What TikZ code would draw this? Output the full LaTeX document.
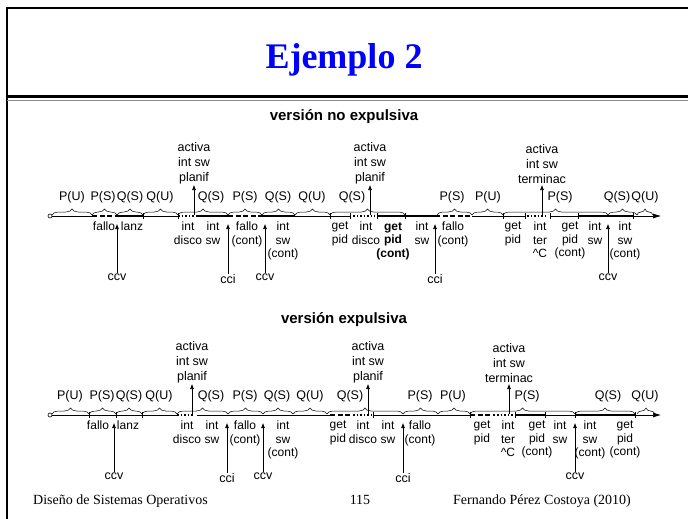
\documentclass[tikz,border=0pt]{standalone}
\usepackage{fontspec}
\setmainfont{Liberation Serif}
\setsansfont{Liberation Sans}
\usetikzlibrary{arrows.meta,decorations.pathreplacing}
\definecolor{slideBlue}{HTML}{0000FF}
\definecolor{ruleGray}{HTML}{8C8C8C}

\begin{document}
\begin{tikzpicture}[x=1pt,y=-1pt,
  lb/.style={font=\sffamily\fontsize{12.5}{13}\selectfont, inner sep=0.5pt},
  up/.style={font=\sffamily\fontsize{12.5}{15}\selectfont, align=center, anchor=south, inner sep=1pt},
  dn/.style={font=\sffamily\fontsize{12}{13.5}\selectfont, align=center, anchor=north, inner sep=0pt},
  hd/.style={font=\sffamily\bfseries\fontsize{15}{17}\selectfont},
  ft/.style={font=\fontsize{14}{16}\selectfont, anchor=base west, inner sep=0pt},
  br/.style={decorate, decoration={brace, amplitude=6pt}, line width=0.5pt},
  usr/.style={line width=0.6pt},
  krn/.style={line width=1.8pt},
  exc/.style={line width=1.8pt, dash pattern=on 5pt off 2.5pt},
  irq/.style={line width=1.5pt, dash pattern=on 1.5pt off 2pt},
  tk/.style={line width=0.6pt},
  a/.style={-{Latex[length=5pt,width=4pt]}, line width=0.6pt}]
  \useasboundingbox (0,0) rectangle (688,519);
  % slide frame
  \draw[line width=2.5pt] (7,519) -- (7,8) -- (688,8);
  \draw[line width=3pt] (7,96) -- (688,96);
  \draw[ruleGray, line width=1pt] (7,100) -- (688,100);
  \node[font=\bfseries\fontsize{36}{40}\selectfont, text=slideBlue, anchor=base] (title) at (344,69) {Ejemplo 2};

  % non-preemptive kernel
  \begin{scope}[shift={(0,216)}]
    \node[hd] (th) at (344,-99) {versión no expulsiva};
    \foreach \xa/\xb/\t/\lx [count=\i] in {52/92/P(U)/72, 92/117/P(S)/103, 117/143/Q(S)/130,
        143/178/Q(U)/160, 178/228/Q(S)/211, 228/262/P(S)/245, 262/295/Q(S)/278, 295/330/Q(U)/312,
        330/405/Q(S)/352, 437/472/P(S)/452, 472/503/P(U)/488, 503/608/P(S)/560, 608/637/Q(S)/617,
        637/653/Q(U)/645}{
      \draw[br] (\xa,-1) -- (\xb,-1);
      \node[lb] (tp\i) at (\lx,-19) {\t};
    }
    \node[draw, circle, inner sep=0pt, minimum size=4pt, line width=0.6pt] (t0) at (50,0) {};
    \foreach \xa/\xb/\s in {52/92/usr, 92/117/exc, 117/143/krn, 143/178/usr, 178/197/irq,
        197/228/krn, 228/262/exc, 262/295/krn, 295/330/usr, 330/350/usr, 353/375/irq,
        377/435/krn, 435/472/exc, 472/503/usr, 503/525/usr, 527/548/irq, 550/578/usr, 578/633/krn}
      \draw[\s] (\xa,0) -- (\xb,0);
    \foreach \x in {143,178,330,350,377,405,503,525,550,578,633}
      \draw[tk] (\x,-3) -- (\x,3);
    \coordinate (tend) at (661,0);
    \draw[usr, -{Latex[length=8pt,width=5pt]}] (633,0) -- (tend);
    \foreach \x/\t [count=\i] in {104/fallo, 132/lanz, 188/int\\disco, 213/int\\sw,
        247/fallo\\(cont), 283/int\\sw\\(cont), 340/get\\pid, 366/int\\disco,
        393/\textbf{get}\\\textbf{pid}\\\textbf{(cont)}, 422/int\\sw, 453/fallo\\(cont),
        513/get\\pid, 540/int\\ter\\\textasciicircum C, 570/get\\pid\\(cont), 595/int\\sw,
        625/int\\sw\\(cont)}
      \node[dn] (td\i) at (\x,6) {\t};
    \foreach \x/\t [count=\i] in {194/planif, 370/planif, 542/terminac}{
      \coordinate (tu\i) at (\x,-1);
      \node[up] (ta\i) at (\x,-31) {activa\\int sw\\\t};
      \draw[a] (tu\i) -- (ta\i);
    }
    \foreach \x/\y/\t [count=\i] in {117/61/ccv, 228/63/cci, 265/61/ccv, 435/63/cci, 608/61/ccv}{
      \coordinate (tv\i) at (\x,8);
      \node[lb] (tc\i) at (\x,\y) {\t};
      \draw[a] (tc\i) -- (tv\i);
    }
  \end{scope}

  % preemptive kernel
  \begin{scope}[shift={(0,415)}]
    \node[hd] (bh) at (344,-95) {versión expulsiva};
    \foreach \xa/\xb/\t/\lx [count=\i] in {52/89/P(U)/70, 89/116/P(S)/102, 116/142/Q(S)/129,
        142/177/Q(U)/159, 177/228/Q(S)/211, 228/263/P(S)/245, 263/293/Q(S)/277, 293/327/Q(U)/310,
        327/403/Q(S)/350, 403/438/P(S)/420, 438/470/P(U)/453, 470/575/P(S)/527, 575/635/Q(S)/608,
        637/655/Q(U)/645}{
      \draw[br] (\xa,-1) -- (\xb,-1);
      \node[lb] (bp\i) at (\lx,-19) {\t};
    }
    \node[draw, circle, inner sep=0pt, minimum size=4pt, line width=0.6pt] (b0) at (50,0) {};
    \foreach \xa/\xb/\s in {52/177/usr, 177/194/irq, 197/330/usr, 330/350/exc, 353/372/irq,
        373/470/usr, 470/495/exc, 497/513/irq, 515/545/krn, 545/575/usr, 575/635/krn}
      \draw[\s] (\xa,0) -- (\xb,0);
    \foreach \x in {89,116,142,373,470,515,545,575,635}
      \draw[tk] (\x,-3) -- (\x,3);
    \coordinate (bend) at (661,0);
    \draw[usr, -{Latex[length=8pt,width=5pt]}] (635,0) -- (bend);
    \foreach \x/\t [count=\i] in {98/fallo, 128/lanz, 187/int\\disco, 212/int\\sw,
        245/fallo\\(cont), 283/int\\sw\\(cont), 338/get\\pid, 363/int\\disco, 388/int\\sw,
        420/fallo\\(cont), 482/get\\pid, 508/int\\ter\\\textasciicircum C, 537/get\\pid\\(cont),
        560/int\\sw, 590/int\\sw\\(cont), 625/get\\pid\\(cont)}
      \node[dn] (bd\i) at (\x,6) {\t};
    \foreach \x/\t [count=\i] in {192/planif, 368/planif, 509/terminac}{
      \coordinate (bu\i) at (\x,-1);
      \node[up] (ba\i) at (\x,-31) {activa\\int sw\\\t};
      \draw[a] (bu\i) -- (ba\i);
    }
    \foreach \x/\y/\t [count=\i] in {114/61/ccv, 227/63/cci, 263/61/ccv, 403/63/cci, 575/61/ccv}{
      \coordinate (bv\i) at (\x,8);
      \node[lb] (bc\i) at (\x,\y) {\t};
      \draw[a] (bc\i) -- (bv\i);
    }
  \end{scope}

  % footer
  \node[ft] (f1) at (33,504) {Diseño de Sistemas Operativos};
  \node[ft, anchor=base] (f2) at (360,504) {115};
  \node[ft] (f3) at (453,504) {Fernando Pérez Costoya (2010)};
\end{tikzpicture}
\end{document}
